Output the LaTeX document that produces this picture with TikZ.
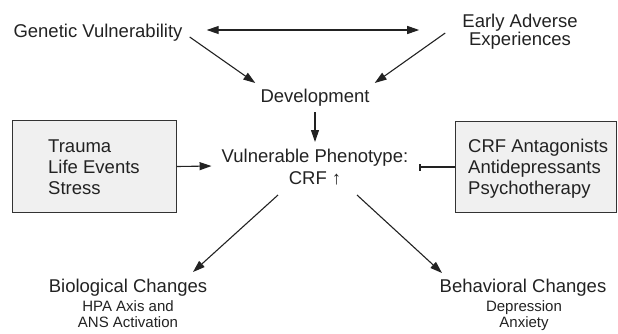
\documentclass[tikz,border=0pt]{standalone}
\usepackage{fontspec}
\setmainfont{Liberation Sans}
\usetikzlibrary{arrows.meta,calc}
\definecolor{ink}{HTML}{222222}
\definecolor{boxfill}{HTML}{F0F0F0}
\definecolor{boxline}{HTML}{333333}
\begin{document}
\begin{tikzpicture}[x=1pt,y=-1pt,
  lbl/.style={inner sep=0pt, text=ink, font=\fontsize{18.5}{21}\selectfont, align=center},
  lbltight/.style={lbl, font=\fontsize{18.5}{18}\selectfont},
  lblwide/.style={lbl, font=\fontsize{18.5}{22}\selectfont},
  boxtext/.style={lbl, align=left},
  sublbl/.style={inner sep=0pt, text=ink, font=\fontsize{15}{16}\selectfont, align=center},
  greybox/.style={draw=boxline, fill=boxfill, line width=1pt, inner sep=0pt, anchor=north west},
  conn/.style={draw=ink, line width=1.1pt, -{Triangle[length=12pt,width=8pt]}},
  biconn/.style={draw=ink, line width=1.1pt, {Triangle[length=12pt,width=8pt]}-{Triangle[length=12pt,width=8pt]}},
  inhib/.style={draw=ink, line width=1.1pt, -{Bar[width=7pt,line width=1.1pt]}}]
\useasboundingbox (0,0) rectangle (618,333);

% boxes
\node[greybox, minimum width=164pt, minimum height=92pt] (boxL) at (12,120) {};
\node[greybox, minimum width=161pt, minimum height=91pt] (boxR) at (455,121) {};

% labels (base anchor of a multi-line node = baseline of its last line)
\node[lbl, anchor=base] (gen) at (98,37) {Genetic Vulnerability};
\node[lbltight, anchor=base] (early) at (520,45) {Early Adverse\\Experiences};
\node[lbl, anchor=base] (dev) at (315,102) {Development};
\node[lblwide, anchor=base] (pheno) at (315,184) {Vulnerable Phenotype:\\CRF \char"2191};
\node[boxtext, anchor=base west] (boxLt) at (48,194) {Trauma\\Life Events\\Stress};
\node[boxtext, anchor=base west] (boxRt) at (468,194) {CRF Antagonists\\Antidepressants\\Psychotherapy};
\node[lbl, anchor=base] (bio) at (128,292) {Biological Changes};
\node[sublbl, anchor=base] (biosub) at (128,327) {HPA Axis and\\ANS Activation};
\node[lbl, anchor=base] (beh) at (523,292) {Behavioral Changes};
\node[sublbl, anchor=base] (behsub) at (524,327) {Depression\\Anxiety};

\coordinate (barend) at ($(pheno.base east)+(11,-19)$);

% connectors
\draw[biconn] ($(gen.base east)+(24,-7)$) -- ($(early.base west)+(-43,-15)$);
\draw[conn] ($(gen.base east)+(7,0)$) -- ($(dev.base west)+(-5,-19)$);
\draw[conn] ($(early.base west)+(-17,-12)$) -- ($(dev.base east)+(5,-19)$);
\draw[conn] ($(dev.base)+(0,10)$) -- ($(pheno.base)+(0,-42)$);
\draw[conn] (boxL.east) -- ($(pheno.base west)+(-10,-18)$);
\draw[inhib] (boxR.west) -- (barend |- boxR.west);
\draw[conn] ($(pheno.base)+(-37,11)$) -- ($(bio.base)+(65,-20)$);
\draw[conn] ($(pheno.base)+(42,11)$) -- ($(beh.base)+(-81,-19)$);
\end{tikzpicture}
\end{document}
